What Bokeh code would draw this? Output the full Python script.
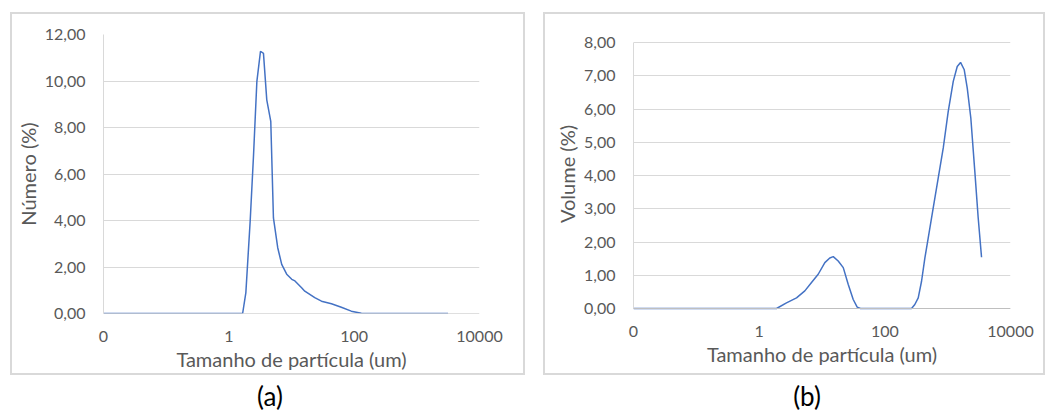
from bokeh.plotting import figure
from bokeh.layouts import row, column
from bokeh.models import Range1d, FixedTicker, CustomJSTickFormatter, Div, Spacer, Span
from bokeh.embed import file_html
from bokeh.resources import INLINE

# ---- data ----
size_a = [0.01, 1.66, 1.87, 2.19, 2.48, 2.80, 3.20, 3.57, 4.03, 4.67,
          5.15, 6.03, 6.98, 8.38, 10.1, 11.35, 14.5, 16.3, 23.5, 30.1,
          43.4, 62.4, 90, 130, 187, 269, 3150]
numero = [0, 0, 0.90, 3.97, 6.83, 9.97, 11.28, 11.19, 9.19, 8.26,
          4.11, 2.83, 2.11, 1.69, 1.47, 1.40, 1.11, 0.96, 0.68, 0.53,
          0.42, 0.27, 0.10, 0.01, 0, 0, 0]

size_b = [0.01, 1.89, 2.72, 3.93, 5.33, 6.81, 8.7, 11.1, 13.3, 15.1,
          18.1, 21.8, 26.1, 31.4, 36.3, 41, 266, 300, 340, 384,
          434, 490, 589, 708, 851, 1021, 1227, 1420, 1603, 1836,
          2050, 2336, 2703, 3060, 3460]
volume = [0, 0, 0.17, 0.32, 0.53, 0.78, 1.03, 1.38, 1.52, 1.56,
          1.43, 1.23, 0.73, 0.27, 0.04, 0, 0, 0.12, 0.32, 0.82,
          1.52, 2.12, 3.03, 3.93, 4.83, 5.93, 6.83, 7.28, 7.40, 7.18,
          6.63, 5.73, 4.13, 2.73, 1.54]

x_tick_values = [0.01, 1, 100, 10000]
x_tick_labels = ["0", "1", "100", "10000"]
x_title = "Tamanho de partícula (um)"
y_title_a = "Número (%)"
y_title_b = "Volume (%)"
panel_tags = ["(a)", "(b)"]

FONT = "Lato"
GREY = "#595959"
LINE = "#4472C4"

# both frames share the same screen rows (the row aligns them); panel (b)
# plots 0..8 over a slightly shorter span inside that frame
FRAME_H = 279.0
B_TOP_PAD = 8.0      # px between frame top and the 8,00 line in (b)
B_BOT_PAD = 5.0      # px between frame bottom and the 0,00 line in (b)


def make_panel(xs, ys, ymax, ystep, ylabel, W, H, bl, br, bt, bb,
               top_pad=0.0, bot_pad=0.0, ytitle_standoff=0):
    ppu = (FRAME_H - top_pad - bot_pad) / ymax
    y0 = -bot_pad / ppu
    y1 = ymax + top_pad / ppu
    p = figure(width=W, height=H, x_axis_type="log",
               x_range=Range1d(0.01, 10000), y_range=Range1d(y0, y1),
               output_backend="svg", toolbar_location=None,
               min_border_left=bl, min_border_right=br,
               min_border_top=bt, min_border_bottom=bb,
               styles={"border": "2px solid #d9d9d9"})
    p.outline_line_color = None
    p.background_fill_color = "white"
    p.border_fill_color = "white"

    p.xgrid.visible = False
    p.ygrid.grid_line_color = "#d9d9d9"
    p.ygrid.grid_line_width = 1

    # baseline at 0,00
    p.add_layout(Span(location=0, dimension="width", line_color="#bfbfbf", line_width=1))
    p.line(xs, ys, line_color=LINE, line_width=1.5)

    xa = p.xaxis[0]
    xa.ticker = FixedTicker(ticks=x_tick_values)
    xa.formatter = CustomJSTickFormatter(
        args=dict(vals=x_tick_values, labs=x_tick_labels),
        code="""
        for (let i = 0; i < vals.length; i++) {
            if (Math.abs(Math.log10(vals[i]) - Math.log10(tick)) < 1e-6) return labs[i];
        }
        return '';
        """)
    xa.axis_label = x_title
    xa.axis_line_color = None

    ya = p.yaxis[0]
    ya.ticker = FixedTicker(ticks=list(range(0, ymax + 1, ystep)))
    ya.formatter = CustomJSTickFormatter(code="return tick.toFixed(2).replace('.', ',');")
    ya.axis_label = ylabel
    ya.axis_line_color = "#d9d9d9"
    ya.bounds = (0, ymax)

    for ax in (xa, ya):
        ax.major_tick_line_color = None
        ax.minor_tick_line_color = None
        ax.major_tick_out = 0
        ax.major_tick_in = 0
        ax.minor_tick_out = 0
        ax.major_label_text_font = FONT
        ax.major_label_text_font_size = "16px"
        ax.major_label_text_color = GREY
        ax.axis_label_text_font = FONT
        ax.axis_label_text_font_size = "20px"
        ax.axis_label_text_font_style = "normal"
        ax.axis_label_text_color = GREY
    xa.major_label_standoff = 17 - int(bot_pad)
    xa.axis_label_standoff = 2
    ya.major_label_standoff = 18
    ya.axis_label_standoff = ytitle_standoff
    return p


def tag_div(text, W, center):
    html = ('<div style="position:relative; top:8px; margin-left:%dpx; width:100px; '
            'text-align:center; line-height:26px; font-family:Lato; font-size:26px; '
            'color:#000000;">%s</div>') % (round(center - 50), text)
    return Div(text=html, width=W, height=36, margin=0)


pa = make_panel(size_a, numero, 12, 2, y_title_a,
                W=515, H=363, bl=89, br=48, bt=20, bb=64, ytitle_standoff=2)
pb = make_panel(size_b, volume, 8, 1, y_title_b,
                W=502, H=363, bl=88, br=37, bt=20, bb=64,
                top_pad=B_TOP_PAD, bot_pad=B_BOT_PAD, ytitle_standoff=2)

da = tag_div(panel_tags[0], 540, 270)
db = tag_div(panel_tags[1], 516, 266.7)

layout = column(Spacer(height=12, margin=0),
                row(Spacer(width=10, margin=0), pa, Spacer(width=18, margin=0), pb),
                row(da, db))
open("out.html", "w").write(file_html(layout, INLINE))
